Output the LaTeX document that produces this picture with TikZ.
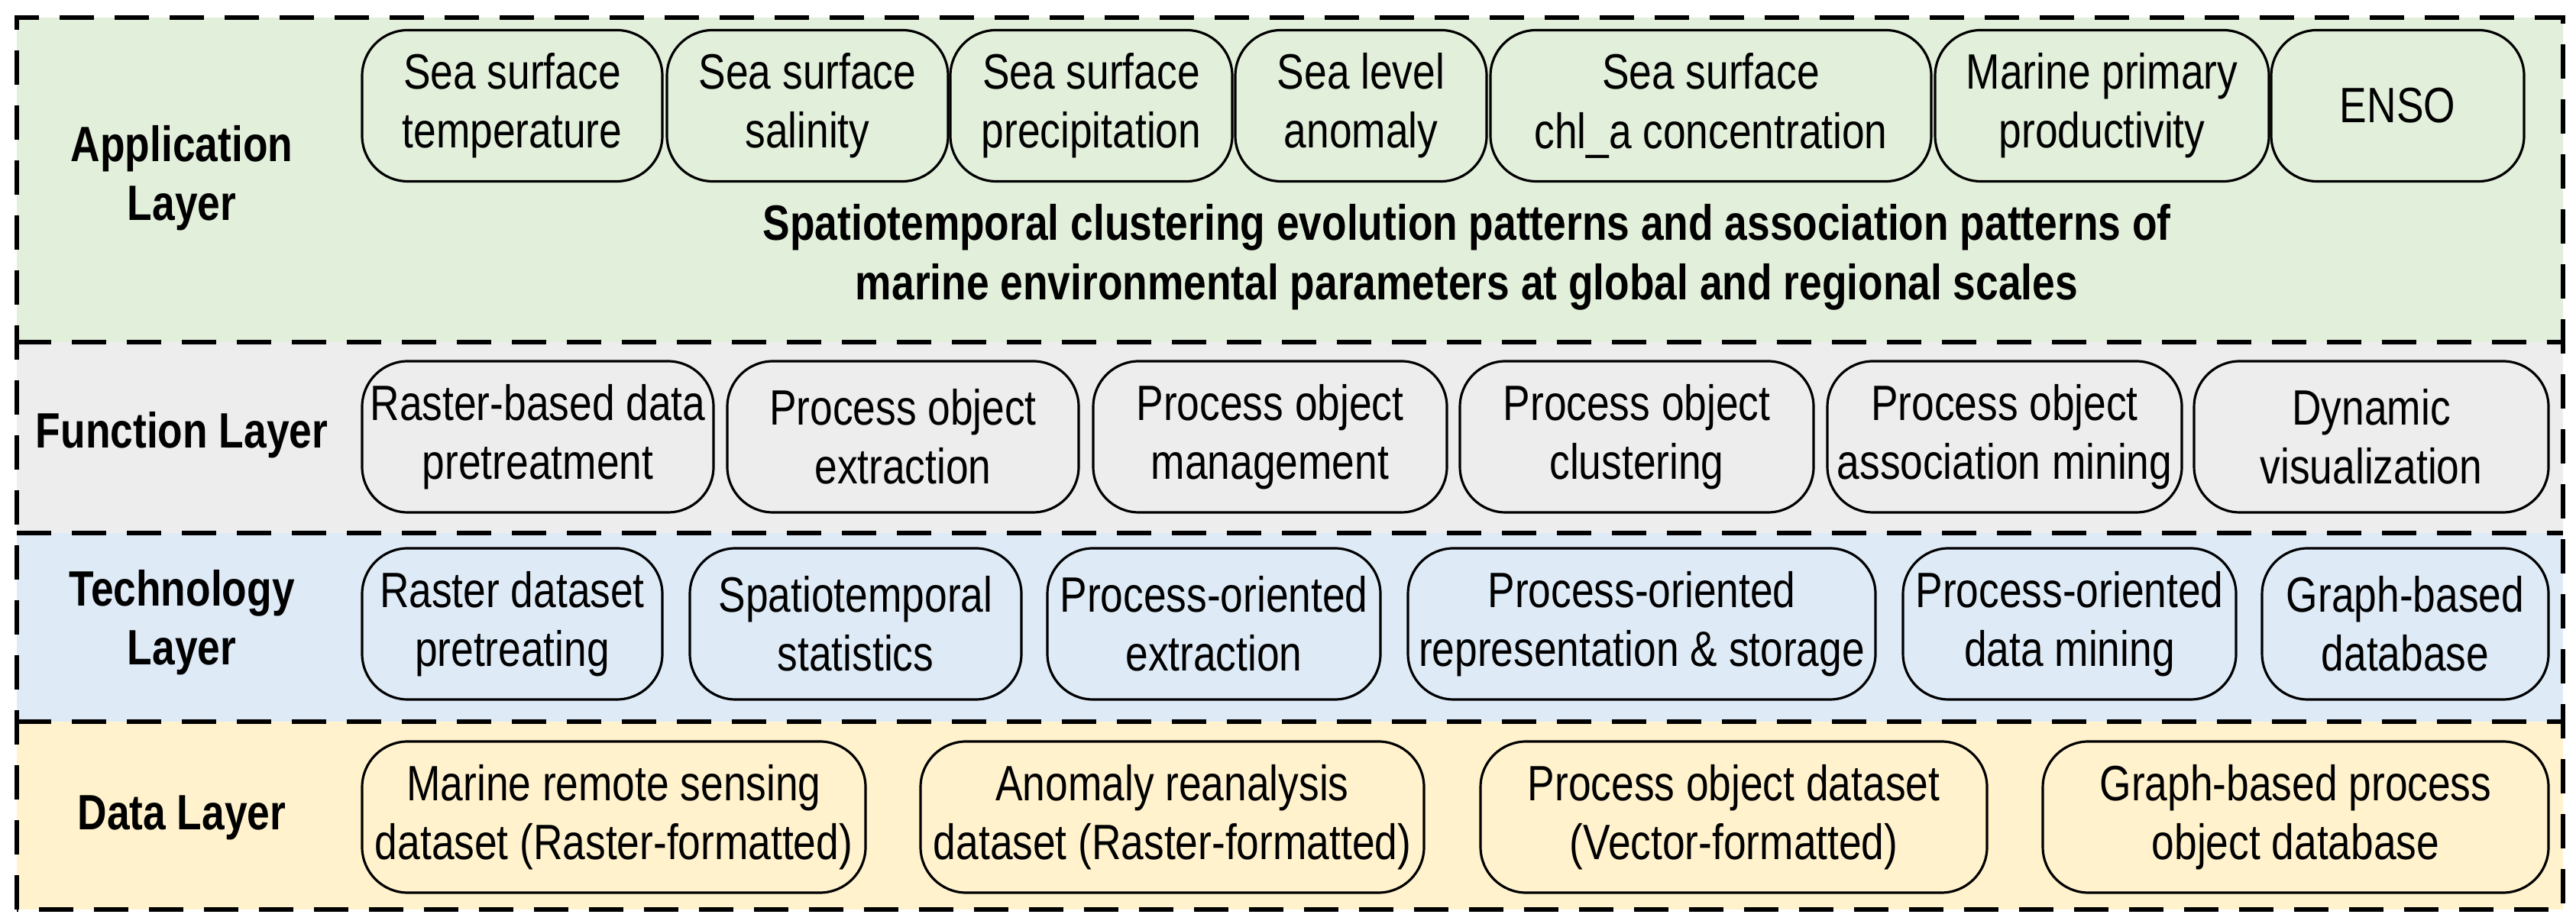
\documentclass[tikz,border=0pt]{standalone}
\usepackage{fontspec}
\setmainfont{Liberation Sans}[FakeStretch=0.82]
\usepackage{tikz}
\usetikzlibrary{positioning}
\definecolor{appgreen}{HTML}{E2EFDA}
\definecolor{fungray}{HTML}{EDEDED}
\definecolor{techblue}{HTML}{DEEBF7}
\definecolor{datayellow}{HTML}{FFF2CC}

\tikzset{
  box/.style={draw, line width=0.9pt, rounded corners=17pt, align=center,
    inner sep=0pt, minimum height=1.98cm,
    font=\fontsize{18.5}{22}\selectfont},
  layer/.style={align=center, font=\fontsize{18.5}{22}\selectfont\bfseries},
  band/.style={black, line width=1.7pt, dash pattern=on 0.45cm off 0.27cm}
}

\begin{document}
\begin{tikzpicture}
    \useasboundingbox (0,0) rectangle (33.72,12.10);

    % Layer bands
    \fill[appgreen] (0.22,7.62) rectangle (33.55,11.87);
    \fill[fungray] (0.22,5.12) rectangle (33.55,7.62);
    \fill[techblue] (0.22,2.65) rectangle (33.55,5.12);
    \fill[datayellow] (0.22,0.19) rectangle (33.55,2.65);
    \draw[band] (0.22,0.19) rectangle (33.55,11.87);
    \draw[band] (0.22,7.62) -- (33.55,7.62);
    \draw[band] (0.22,5.12) -- (33.55,5.12);
    \draw[band] (0.22,2.65) -- (33.55,2.65);

    % Application layer
    \node[layer] (applabel) at (2.38,9.77) {Application\\Layer};
    \node[box, minimum width=3.93cm] (sst) at (6.705,10.715) {Sea surface\\temperature};
    \node[box, minimum width=3.68cm] (sss) at (10.57,10.715) {Sea surface\\salinity};
    \node[box, minimum width=3.69cm] (ssp) at (14.285,10.715) {Sea surface\\precipitation};
    \node[box, minimum width=3.29cm] (sla) at (17.815,10.715) {Sea level\\anomaly};
    \node[box, minimum width=5.77cm] (chl) at (22.395,10.715) {Sea surface\\chl\_a concentration};
    \node[box, minimum width=4.37cm] (mpp) at (27.515,10.715) {Marine primary\\productivity};
    \node[box, minimum width=3.31cm] (enso) at (31.385,10.715) {ENSO};
    \node[layer] (patterns) at (19.2,8.73) {Spatiotemporal clustering evolution patterns and association patterns of\\marine environmental parameters at global and regional scales};

    % Function layer
    \node[layer] (funlabel) at (2.38,6.40) {Function Layer};
    \node[box, minimum width=4.6cm] (pretreat) at (7.04,6.38) {Raster-based data\\pretreatment};
    \node[box, minimum width=4.6cm] (extract) at (11.82,6.38) {Process object\\extraction};
    \node[box, minimum width=4.63cm] (manage) at (16.625,6.38) {Process object\\management};
    \node[box, minimum width=4.63cm] (cluster) at (21.425,6.38) {Process object\\clustering};
    \node[box, minimum width=4.64cm] (assoc) at (26.24,6.38) {Process object\\association mining};
    \node[box, minimum width=4.64cm] (visual) at (31.04,6.38) {Dynamic\\visualization};

    % Technology layer
    \node[layer] (techlabel) at (2.38,3.95) {Technology\\Layer};
    \node[box, minimum width=3.93cm] (rdp) at (6.705,3.93) {Raster dataset\\pretreating};
    \node[box, minimum width=4.34cm] (stat) at (11.20,3.93) {Spatiotemporal\\statistics};
    \node[box, minimum width=4.36cm] (poext) at (15.89,3.93) {Process-oriented\\extraction};
    \node[box, minimum width=6.12cm] (porep) at (21.49,3.93) {Process-oriented\\representation \& storage};
    \node[box, minimum width=4.36cm] (pomine) at (27.09,3.93) {Process-oriented\\data mining};
    \node[box, minimum width=3.75cm] (graphdb) at (31.485,3.93) {Graph-based\\database};

    % Data layer
    \node[layer] (datalabel) at (2.38,1.39) {Data Layer};
    \node[box, minimum width=6.59cm] (remote) at (8.035,1.40) {Marine remote sensing\\dataset (Raster-formatted)};
    \node[box, minimum width=6.59cm] (reanal) at (15.345,1.40) {Anomaly reanalysis\\dataset (Raster-formatted)};
    \node[box, minimum width=6.63cm] (podata) at (22.695,1.40) {Process object dataset\\(Vector-formatted)};
    \node[box, minimum width=6.62cm] (graphpo) at (30.05,1.40) {Graph-based process\\object database};
\end{tikzpicture}
\end{document}
